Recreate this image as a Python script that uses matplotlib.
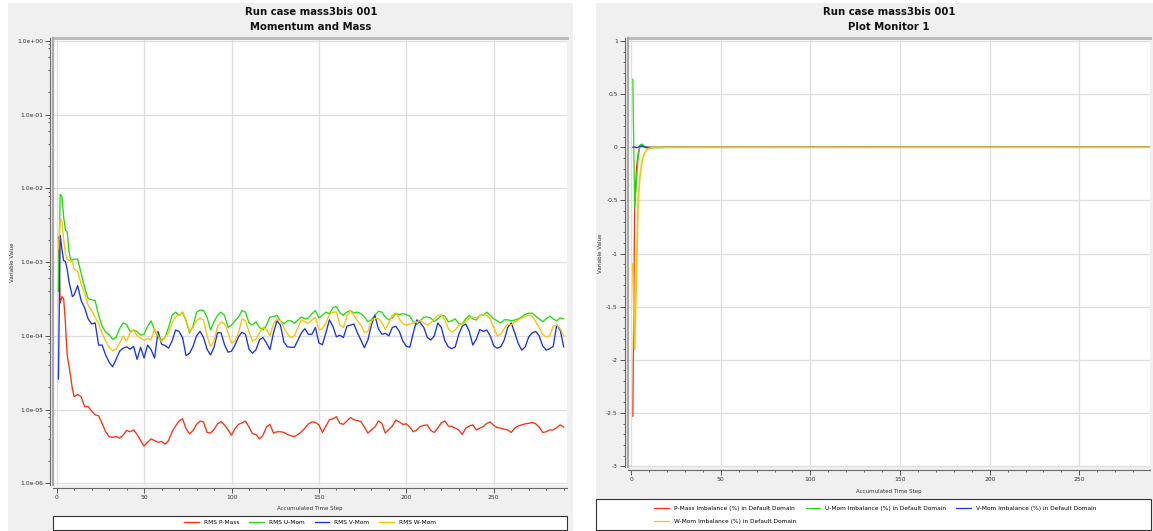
import matplotlib
matplotlib.use("Agg")
import matplotlib.pyplot as plt
from matplotlib.ticker import FixedLocator, MultipleLocator, FuncFormatter, NullFormatter
from matplotlib.patches import Rectangle
from matplotlib.lines import Line2D

plt.rcParams['font.family'] = ['DejaVu Sans']

# ---------------- data: left panel (RMS residuals) ----------------
steps_left = list(range(1, 11)) + list(range(12, 291, 2))

rms_p_mass = [
    2.2e-3, 2.8e-4, 3.4e-4, 3.2e-4, 1.5e-4, 5.5e-5, 4.0e-5, 2.8e-5, 1.9e-5, 1.5e-5,
    1.6e-5, 1.5e-5, 1.1e-5, 1.1e-5, 9.5e-6, 8.5e-6, 8.2e-6, 6.5e-6, 5.0e-6, 4.3e-6,
    4.2e-6, 4.3e-6, 4.1e-6, 4.5e-6, 5.2e-6, 5.0e-6, 5.3e-6, 4.6e-6, 3.8e-6, 3.2e-6,
    3.6e-6, 4.0e-6, 3.8e-6, 3.6e-6, 3.7e-6, 3.4e-6, 3.8e-6, 5.0e-6, 6.0e-6, 7.0e-6,
    7.5e-6, 5.5e-6, 4.7e-6, 5.2e-6, 6.3e-6, 7.0e-6, 6.8e-6, 4.9e-6, 4.8e-6, 5.4e-6,
    6.4e-6, 6.9e-6, 6.2e-6, 5.3e-6, 4.5e-6, 5.5e-6, 6.3e-6, 6.6e-6, 7.0e-6, 5.8e-6,
    4.7e-6, 4.6e-6, 4.0e-6, 4.5e-6, 5.8e-6, 6.3e-6, 4.8e-6, 5.0e-6, 5.0e-6, 4.9e-6,
    4.6e-6, 4.4e-6, 4.3e-6, 4.6e-6, 5.0e-6, 5.6e-6, 6.4e-6, 6.8e-6, 6.7e-6, 6.2e-6,
    4.9e-6, 6.0e-6, 7.3e-6, 7.5e-6, 8.0e-6, 6.5e-6, 6.3e-6, 7.0e-6, 7.8e-6, 7.3e-6,
    7.1e-6, 6.9e-6, 5.8e-6, 4.8e-6, 5.3e-6, 5.8e-6, 7.0e-6, 6.5e-6, 4.8e-6, 5.4e-6,
    6.0e-6, 7.2e-6, 6.8e-6, 6.3e-6, 6.4e-6, 5.8e-6, 5.0e-6, 5.3e-6, 5.9e-6, 6.1e-6,
    6.2e-6, 5.2e-6, 4.9e-6, 5.6e-6, 6.6e-6, 7.0e-6, 6.0e-6, 5.9e-6, 5.6e-6, 5.3e-6,
    4.6e-6, 5.6e-6, 6.0e-6, 6.2e-6, 5.3e-6, 5.6e-6, 5.9e-6, 6.5e-6, 6.8e-6, 6.1e-6,
    5.7e-6, 5.6e-6, 5.4e-6, 5.3e-6, 4.9e-6, 5.6e-6, 6.0e-6, 6.2e-6, 6.4e-6, 6.5e-6,
    6.7e-6, 6.4e-6, 5.8e-6, 4.9e-6, 5.0e-6, 5.3e-6, 5.3e-6, 5.7e-6, 6.2e-6, 5.8e-6,
]

rms_u_mom = [
    4.0e-4, 8.3e-3, 7.8e-3, 4.1e-3, 2.7e-3, 2.6e-3, 1.4e-3, 1.07e-3, 1.07e-3, 1.1e-3,
    1.1e-3, 7.0e-4, 4.5e-4, 3.2e-4, 3.1e-4, 3.0e-4, 1.9e-4, 1.35e-4, 1.12e-4, 1.04e-4,
    9.0e-5, 9.5e-5, 1.25e-4, 1.5e-4, 1.42e-4, 1.14e-4, 1.2e-4, 1.14e-4, 1.02e-4, 1.05e-4,
    1.35e-4, 1.6e-4, 1.2e-4, 9.5e-5, 8.8e-5, 9.5e-5, 1.3e-4, 1.9e-4, 2.1e-4, 1.9e-4,
    2.1e-4, 1.6e-4, 1.1e-4, 1.35e-4, 2.1e-4, 2.24e-4, 2.2e-4, 1.8e-4, 1.2e-4, 1.55e-4,
    1.9e-4, 2.1e-4, 1.9e-4, 1.3e-4, 1.4e-4, 1.6e-4, 1.8e-4, 2.2e-4, 2.1e-4, 1.5e-4,
    1.4e-4, 1.55e-4, 1.3e-4, 1.2e-4, 1.4e-4, 1.8e-4, 1.82e-4, 1.9e-4, 1.6e-4, 1.45e-4,
    1.6e-4, 1.6e-4, 1.48e-4, 1.64e-4, 1.8e-4, 1.7e-4, 1.75e-4, 2.0e-4, 2.2e-4, 1.75e-4,
    1.9e-4, 2.1e-4, 2.0e-4, 2.4e-4, 2.5e-4, 2.05e-4, 1.9e-4, 2.1e-4, 2.2e-4, 2.05e-4,
    2.1e-4, 2.0e-4, 1.8e-4, 1.56e-4, 1.65e-4, 1.9e-4, 2.15e-4, 2.1e-4, 1.8e-4, 1.65e-4,
    1.75e-4, 2.0e-4, 1.95e-4, 2.0e-4, 1.95e-4, 1.85e-4, 1.55e-4, 1.42e-4, 1.6e-4, 1.8e-4,
    1.8e-4, 1.75e-4, 1.56e-4, 1.7e-4, 1.9e-4, 1.85e-4, 1.55e-4, 1.6e-4, 1.7e-4, 1.45e-4,
    1.45e-4, 1.7e-4, 1.9e-4, 1.7e-4, 1.64e-4, 1.9e-4, 1.92e-4, 2.1e-4, 1.9e-4, 1.7e-4,
    1.6e-4, 1.5e-4, 1.65e-4, 1.65e-4, 1.6e-4, 1.64e-4, 1.7e-4, 1.8e-4, 1.95e-4, 2.03e-4,
    2.03e-4, 1.85e-4, 1.7e-4, 1.56e-4, 1.7e-4, 1.85e-4, 1.7e-4, 1.6e-4, 1.75e-4, 1.7e-4,
]

rms_v_mom = [
    2.6e-5, 2.3e-3, 1.5e-3, 1.05e-3, 1.02e-3, 8.0e-4, 5.5e-4, 4.3e-4, 3.4e-4, 3.6e-4,
    4.8e-4, 3.0e-4, 2.4e-4, 1.7e-4, 1.45e-4, 1.5e-4, 7.5e-5, 7.5e-5, 5.5e-5, 4.4e-5,
    3.8e-5, 4.8e-5, 6.2e-5, 6.8e-5, 7.1e-5, 6.6e-5, 7.2e-5, 4.8e-5, 7.0e-5, 5.0e-5,
    7.5e-5, 6.5e-5, 5.0e-5, 1.15e-4, 7.7e-5, 7.4e-5, 6.8e-5, 8.5e-5, 1.2e-4, 1.15e-4,
    9.5e-5, 5.4e-5, 5.8e-5, 7.2e-5, 1.0e-4, 1.15e-4, 9.5e-5, 6.6e-5, 5.5e-5, 7.0e-5,
    1.1e-4, 1.1e-4, 7.6e-5, 6.0e-5, 6.2e-5, 7.5e-5, 9.7e-5, 1.12e-4, 1.05e-4, 6.6e-5,
    5.8e-5, 6.5e-5, 8.8e-5, 9.5e-5, 8.0e-5, 6.5e-5, 1.1e-4, 1.6e-4, 1.4e-4, 8.2e-5,
    7.1e-5, 7.0e-5, 7.0e-5, 8.8e-5, 1.1e-4, 1.25e-4, 1.05e-4, 1.05e-4, 1.3e-4, 8.0e-5,
    7.6e-5, 1.1e-4, 1.65e-4, 1.35e-4, 9.7e-5, 1.02e-4, 9.5e-5, 1.35e-4, 1.4e-4, 1.45e-4,
    1.1e-4, 8.8e-5, 6.9e-5, 8.8e-5, 1.4e-4, 1.9e-4, 1.25e-4, 1.05e-4, 1.08e-4, 1.0e-4,
    1.3e-4, 1.35e-4, 1.15e-4, 8.5e-5, 7.2e-5, 7.0e-5, 1.1e-4, 1.65e-4, 1.5e-4, 1.3e-4,
    9.5e-5, 8.8e-5, 1.0e-4, 1.5e-4, 1.3e-4, 8.6e-5, 7.1e-5, 6.7e-5, 7.1e-5, 1.05e-4,
    1.35e-4, 1.45e-4, 1.15e-4, 7.5e-5, 9.0e-5, 1.22e-4, 1.15e-4, 1.2e-4, 1.0e-4, 7.3e-5,
    6.8e-5, 7.1e-5, 8.8e-5, 1.3e-4, 1.5e-4, 1.1e-4, 7.9e-5, 6.4e-5, 7.1e-5, 9.7e-5,
    1.1e-4, 1.15e-4, 1.0e-4, 7.3e-5, 6.4e-5, 6.7e-5, 7.2e-5, 1.4e-4, 1.2e-4, 7.1e-5,
]

rms_w_mom = [
    1.5e-3, 3.8e-3, 3.6e-3, 2.0e-3, 1.3e-3, 1.1e-3, 1.05e-3, 1.05e-3, 1.0e-3, 8.0e-4,
    7.5e-4, 5.0e-4, 3.8e-4, 2.6e-4, 2.2e-4, 1.8e-4, 1.45e-4, 1.08e-4, 8.5e-5, 7.0e-5,
    6.3e-5, 6.6e-5, 8.0e-5, 1.0e-4, 8.5e-5, 1.1e-4, 1.2e-4, 1.0e-4, 9.3e-5, 8.8e-5,
    9.2e-5, 8.8e-5, 1.25e-4, 1.0e-4, 8.3e-5, 9.5e-5, 1.1e-4, 1.5e-4, 1.8e-4, 1.92e-4,
    2.1e-4, 1.65e-4, 1.15e-4, 1.3e-4, 1.6e-4, 1.75e-4, 1.65e-4, 1.0e-4, 7.2e-5, 8.5e-5,
    1.35e-4, 1.55e-4, 1.45e-4, 1.1e-4, 8.0e-5, 8.5e-5, 1.1e-4, 1.7e-4, 1.6e-4, 1.14e-4,
    8.5e-5, 9.0e-5, 1.1e-4, 1.3e-4, 1.22e-4, 1.0e-4, 1.45e-4, 1.7e-4, 1.6e-4, 1.3e-4,
    1.05e-4, 9.5e-5, 1.0e-4, 1.3e-4, 1.64e-4, 1.55e-4, 1.48e-4, 1.64e-4, 1.8e-4, 1.2e-4,
    1.25e-4, 1.5e-4, 1.95e-4, 2.1e-4, 2.1e-4, 1.4e-4, 1.3e-4, 1.85e-4, 2.2e-4, 1.9e-4,
    1.6e-4, 1.4e-4, 1.12e-4, 1.15e-4, 1.6e-4, 1.73e-4, 1.72e-4, 1.5e-4, 1.22e-4, 1.5e-4,
    1.9e-4, 2.05e-4, 1.7e-4, 1.45e-4, 1.4e-4, 1.45e-4, 1.5e-4, 1.55e-4, 1.62e-4, 1.5e-4,
    1.4e-4, 1.5e-4, 1.7e-4, 1.9e-4, 1.92e-4, 1.65e-4, 1.25e-4, 1.12e-4, 1.2e-4, 1.4e-4,
    1.45e-4, 1.55e-4, 1.75e-4, 1.8e-4, 1.75e-4, 1.85e-4, 1.92e-4, 1.9e-4, 1.7e-4, 1.3e-4,
    1.0e-4, 1.05e-4, 1.25e-4, 1.45e-4, 1.4e-4, 1.55e-4, 1.64e-4, 1.75e-4, 1.85e-4, 1.92e-4,
    1.85e-4, 1.55e-4, 1.3e-4, 1.05e-4, 9.7e-5, 1.0e-4, 1.35e-4, 1.4e-4, 1.25e-4, 1.0e-4,
]

left_labels = ['RMS P-Mass', 'RMS U-Mom', 'RMS V-Mom', 'RMS W-Mom']

# ---------------- data: right panel (imbalances, %) ----------------
steps_right = list(range(1, 21)) + [290]
p_imbalance = [-2.53, -0.58, -0.20, -0.05, 0.01, 0.015, 0.01, 0.005, 0.0, 0.0,
               0.0, 0.0, 0.0, 0.0, 0.0, 0.0, 0.0, 0.0, 0.0, 0.0, 0.0]
u_imbalance = [0.64, -0.57, -0.33, -0.10, 0.02, 0.03, 0.02, 0.0, -0.01, -0.01,
               -0.008, -0.006, -0.005, -0.005, -0.004, -0.004, -0.003, -0.003, -0.002, -0.002, 0.0]
v_imbalance = [0.0, 0.005, -0.005, 0.0, 0.01, 0.01, 0.005, 0.0, 0.0, 0.0,
               0.0, 0.0, 0.0, 0.0, 0.0, 0.0, 0.0, 0.0, 0.0, 0.0, 0.0]
w_imbalance = [-1.1, -1.9, -1.2, -0.5, -0.27, -0.14, -0.08, -0.04, -0.02, -0.01,
               -0.005, 0.0, 0.0, 0.0, 0.0, 0.0, 0.0, 0.0, 0.0, 0.0, 0.0]
right_labels = ['P-Mass Imbalance (%) in Default Domain', 'U-Mom Imbalance (%) in Default Domain',
                'V-Mom Imbalance (%) in Default Domain', 'W-Mom Imbalance (%) in Default Domain']

colors = ['#ff3010', '#22dd11', '#1a33ee', '#ffc200']

# ---------------- figure ----------------
W, H = 1153, 531
fig = plt.figure(figsize=(W / 100, H / 100), dpi=100)
fig.patch.set_facecolor('white')


def fig_rect(x0, y0, x1, y1):
    return [x0 / W, 1 - y1 / H, (x1 - x0) / W, (y1 - y0) / H]


def add_box(x0, y0, x1, y1, fc, ec='none', lw=0.0, z=-10):
    r = fig_rect(x0, y0, x1, y1)
    fig.patches.append(Rectangle((r[0], r[1]), r[2], r[3], transform=fig.transFigure,
                                 facecolor=fc, edgecolor=ec, linewidth=lw, zorder=z))


# panel backgrounds
add_box(8, 3, 573, 531, '#f0f0f0')
add_box(596, 3, 1153, 531, '#f0f0f0')


def style(ax):
    ax.set_facecolor('white')
    for s in ['left', 'bottom']:
        ax.spines[s].set_position(('outward', 2.2))
        ax.spines[s].set_color('#6a6a6a')
        ax.spines[s].set_linewidth(0.8)
    ax.spines['right'].set_visible(False)
    ax.spines['top'].set_color('#bdbdbd')
    ax.spines['top'].set_linewidth(2.2)
    ax.add_line(Line2D([0, 0], [0, 1], transform=ax.transAxes, color='#a9a9a9',
                       lw=1.6, clip_on=False, zorder=3))
    ax.tick_params(which='major', direction='out', length=3.6, width=0.7, color='#555555',
                   labelsize=4.3, labelcolor='#333333', pad=1.5)
    ax.tick_params(which='minor', direction='out', length=1.6, width=0.6, color='#555555')
    ax.grid(True, which='major', color='#dedede', lw=0.9)
    ax.set_axisbelow(True)


# ---- left panel ----
axL = fig.add_axes(fig_rect(53, 38, 567, 485))
style(axL)
for ys, c, lab in zip([rms_p_mass, rms_u_mom, rms_v_mom, rms_w_mom], colors, left_labels):
    axL.plot(steps_left, ys, color=c, lw=0.95, label=lab)
axL.set_yscale('log')
axL.set_ylim(10 ** -6.023, 10 ** 0.04)
axL.set_xlim(-2.1, 291.9)
axL.yaxis.set_major_locator(FixedLocator([10.0 ** e for e in range(-6, 1)]))
axL.yaxis.set_minor_locator(FixedLocator([m * 10.0 ** e for e in range(-6, 0) for m in (2, 4, 6, 8, 9)]))
axL.yaxis.set_major_formatter(FuncFormatter(lambda v, p: f"{v:.1e}"))
axL.yaxis.set_minor_formatter(NullFormatter())
axL.xaxis.set_major_locator(MultipleLocator(50))
axL.xaxis.set_minor_locator(MultipleLocator(10))

# ---- right panel ----
axR = fig.add_axes(fig_rect(628, 38, 1150, 467))
style(axR)
right_lw = [0.9, 0.9, 0.9, 1.2]
for ys, c, lab, lw in zip([p_imbalance, u_imbalance, v_imbalance, w_imbalance], colors, right_labels, right_lw):
    axR.plot(steps_right, ys, color=c, lw=lw, label=lab)
axR.set_ylim(-3.008, 1.028)
axR.set_xlim(-1.7, 289.4)
axR.yaxis.set_major_locator(MultipleLocator(0.5))
axR.yaxis.set_minor_locator(MultipleLocator(0.1))
axR.yaxis.set_major_formatter(FuncFormatter(lambda v, p: f"{round(v, 2) + 0.0:g}"))
axR.xaxis.set_major_locator(MultipleLocator(50))
axR.xaxis.set_minor_locator(MultipleLocator(10))

# ---- titles and axis labels ----
tkw = dict(ha='center', va='center', fontsize=7.3, fontweight='bold', color='#111111')
fig.text(311 / W, 1 - 12 / H, 'Run case mass3bis 001', **tkw)
fig.text(311 / W, 1 - 27 / H, 'Momentum and Mass', **tkw)
fig.text(889 / W, 1 - 12 / H, 'Run case mass3bis 001', **tkw)
fig.text(889 / W, 1 - 27 / H, 'Plot Monitor 1', **tkw)

lkw = dict(ha='center', va='center', fontsize=4, color='#333333')
fig.text(310 / W, 1 - 508.5 / H, 'Accumulated Time Step', **lkw)
fig.text(889 / W, 1 - 491.5 / H, 'Accumulated Time Step', **lkw)
fig.text(12.5 / W, 1 - 262 / H, 'Variable Value', rotation=90, **lkw)
fig.text(601 / W, 1 - 253 / H, 'Variable Value', rotation=90, **lkw)

# ---- legends ----
add_box(52.5, 515.5, 567, 530, 'white', ec='#333333', lw=0.8, z=1)
add_box(596, 498.5, 1150.5, 530, 'white', ec='#333333', lw=0.8, z=1)

legkw = dict(frameon=False, fontsize=4.2, handlelength=2.5, handletextpad=0.85,
             columnspacing=1.7, borderaxespad=0, borderpad=0, loc='center')
hL, lL = axL.get_legend_handles_labels()
fig.legend(hL, lL, ncol=4, bbox_to_anchor=(310 / W, 1 - 522.5 / H), **legkw)
hR, lR = axR.get_legend_handles_labels()
order = [0, 3, 1, 2]
legR = fig.legend([hR[i] for i in order], [lR[i] for i in order], ncol=3,
                  bbox_to_anchor=(875 / W, 1 - 515 / H), labelspacing=1.5, **legkw)
for h in legR.legend_handles:
    h.set_linewidth(0.9)

fig.savefig('out.png', dpi=100, facecolor=fig.get_facecolor())
